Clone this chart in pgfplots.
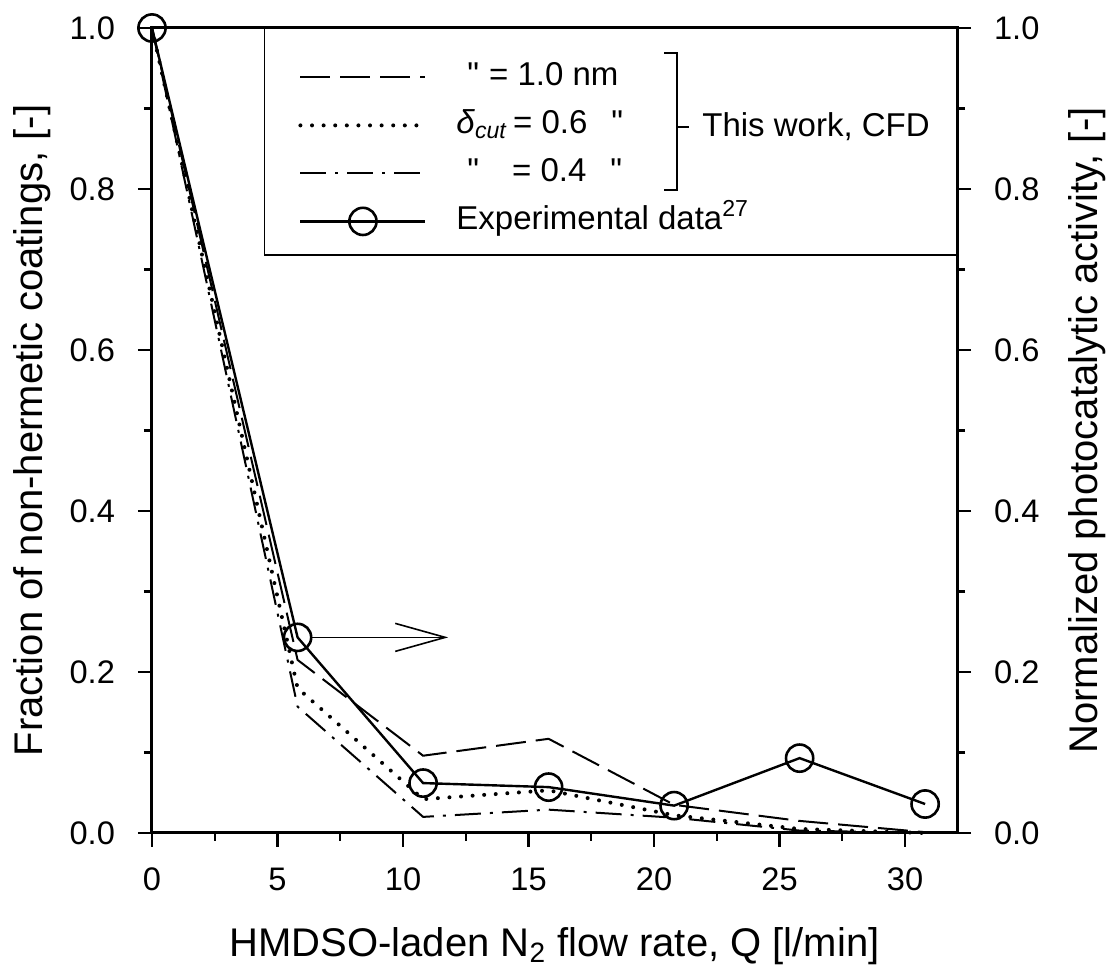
\documentclass[border=0pt]{standalone}
\usepackage{fontspec}
\setmainfont{Liberation Sans}
\newfontfamily\plainfont{Liberation Sans}
\usepackage{pgfplots}
\pgfplotsset{compat=1.18}
\usetikzlibrary{arrows.meta}
\begin{document}
\fontsize{16}{19}\selectfont
\begin{tikzpicture}
\pgfplotsset{
  common/.style={
    scale only axis, width=402.5pt, height=402.5pt,
    xmin=0, xmax=32.07, ymin=0, ymax=1,
    tick align=outside,
    major tick length=7pt, minor tick length=4pt,
    every tick/.style={line width=1.2pt, black},
    axis line style={line width=1.5pt},
    ytick={0,0.2,0.4,0.6,0.8,1.0}, minor y tick num=1,
    yticklabel style={/pgf/number format/fixed, /pgf/number format/fixed zerofill, /pgf/number format/precision=1},
    /pgf/number format/assume math mode=true,
    tick label style={font=\fontsize{16.3}{19}\selectfont},
    label style={font=\fontsize{20}{24}\selectfont},
  }
}
\begin{axis}[common,
  xtick={0,5,10,15,20,25,30}, minor x tick num=1,
  xtick pos=bottom, ytick pos=left,
  yticklabel style={xshift=-6pt},
  xticklabel style={yshift=-5pt},
  clip=false,
  xlabel={HMDSO-laden N\textsubscript{2} flow rate, Q [l/min]},
  ylabel={Fraction of non-hermetic coatings, [-]},
  xlabel style={at={(axis description cs:0.5,-0.1528)}, anchor=base},
  ylabel style={at={(axis description cs:-0.1354,0.5)}, anchor=base},
  legend style={at={(rel axis cs:0.1814,0.959)}, anchor=north west,
    draw=none, fill=none, inner sep=0pt, row sep=8pt,
    font=\fontsize{16.5}{19}\selectfont,
    nodes={inner sep=0pt, text height=12pt, text depth=4pt},
    /tikz/every odd column/.append style={column sep=14.5pt}},
  legend cell align=left,
  legend image code/.code={
    \draw[mark repeat=2,mark phase=2,#1] plot coordinates {(0pt,0pt) (31.25pt,0pt) (62.5pt,0pt)};
  },
]
% legend box
\draw[line width=0.6pt] (axis cs:4.48,0.718) -- (axis cs:32.07,0.718);
\draw[line width=0.6pt] (axis cs:4.48,0.718) -- (axis cs:4.48,1);

\addplot[black, line width=1pt, dash pattern=on 15pt off 5pt] coordinates {
 (0,1.0) (5.8,0.215) (10.8,0.096) (15.8,0.117) (20.8,0.035) (25.8,0.015) (30.8,0.001)};
\addlegendentry{\hspace{5.5pt}{\plainfont"}\hspace{5pt}= 1.0 nm}

\addplot[black, line width=2pt, line cap=round, dash pattern=on 0pt off 5.8pt] coordinates {
 (0,1.0) (5.8,0.18) (10.8,0.042) (15.8,0.053) (20.8,0.022) (25.8,0.005) (30.8,0.0)};
\addlegendentry{\textit{δ}\textsubscript{\textit{cut}}\,= 0.6\hspace{12pt}{\plainfont"}}

\addplot[black, line width=1pt, dash pattern=on 13pt off 4.5pt on 1.5pt off 4.5pt] coordinates {
 (0,1.0) (5.8,0.157) (10.8,0.020) (15.8,0.029) (20.8,0.019) (25.8,0.003) (30.8,0.0)};
\addlegendentry{\hspace{5.5pt}{\plainfont"}\hspace{16.5pt}= 0.4\hspace{12pt}{\plainfont"}}

\addplot[black, line width=1.2pt, mark=o, mark size=6.8pt,
  mark options={fill=white, solid, line width=1.3pt}] coordinates {
 (0,1.0) (5.8,0.243) (10.8,0.062) (15.8,0.057) (20.8,0.034) (25.8,0.093) (30.8,0.036)};
\addlegendentry{Experimental data\textsuperscript{27}}

% bracket
\draw[line width=1.2pt] (axis cs:20.40,0.969) -- (axis cs:20.92,0.969) -- (axis cs:20.92,0.799) -- (axis cs:20.40,0.799);
\draw[line width=1.2pt] (axis cs:20.92,0.877) -- (axis cs:21.39,0.877);
\node[anchor=west, inner sep=0pt, font=\fontsize{16.5}{19}\selectfont] at (axis cs:21.91,0.877) {This work, CFD};

% arrow
\draw[line width=0.6pt, -{Straight Barb[length=25pt,width=14pt,line width=0.8pt]}] (axis cs:6.33,0.243) -- (axis cs:11.8,0.243);

\coordinate (bl) at (rel axis cs:0,0);
\coordinate (tr) at (rel axis cs:1,1);
\end{axis}
\begin{axis}[common,
  axis x line=none, axis y line*=right,
  yticklabel style={xshift=6pt},
  ylabel={Normalized photocatalytic activity, [-]},
  ylabel style={at={(axis description cs:1.1739,0.5)}, anchor=base},
]
\addplot[draw=none] coordinates {(0,0)};
\end{axis}
\pgfresetboundingbox
\path ([shift={(-76pt,-70pt)}]bl) rectangle ([shift={(75.5pt,14pt)}]tr);
\end{tikzpicture}
\end{document}
